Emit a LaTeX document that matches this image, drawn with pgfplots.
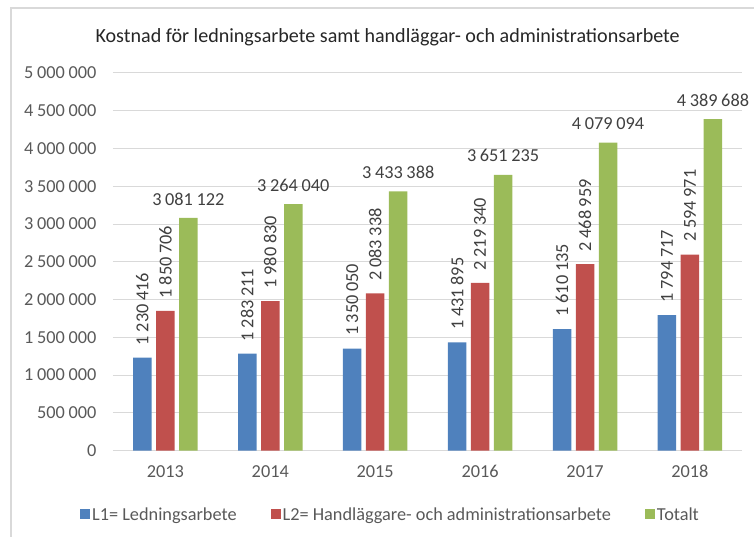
\documentclass[border=0pt]{standalone}
\usepackage{pgfplots}
\pgfplotsset{compat=1.18}
\usepackage{fontspec}
\setmainfont{Carlito}
\definecolor{c1}{HTML}{4F81BD}
\definecolor{c2}{HTML}{C0504D}
\definecolor{c3}{HTML}{9BBB59}
\definecolor{gridc}{HTML}{D9D9D9}
\definecolor{txt}{HTML}{595959}
\definecolor{lbl}{HTML}{404040}
\definecolor{titlec}{HTML}{262626}
\newcommand\sep{\hspace{0.2em}}
\newcommand\fs{\fontsize{18.3}{21}\selectfont}
\begin{document}
\begin{tikzpicture}
\path (-113pt,-86pt) rectangle (642pt,451pt);
\draw[gridc, line width=1.2pt] (-102pt,-86pt) -- (-102pt,443pt) -- (642pt,443pt);
\begin{axis}[
  at={(0,0)}, anchor=south west,
  scale only axis, width=630pt, height=378pt,
  xmin=-0.5, xmax=5.5, ymin=0, ymax=5000000,
  xtick={0,...,5}, xticklabels={2013,2014,2015,2016,2017,2018},
  ytick={0,500000,...,5000000},
  scaled y ticks=false,
  axis line style={draw=none},
  major tick length=0pt,
  ymajorgrids, major grid style={gridc, line width=1pt},
  ybar=4.5pt, bar width=18.5pt,
  clip=false,
  /pgf/number format/fixed,
  /pgf/number format/precision=0,
  /pgf/number format/1000 sep={\sep},
  /pgf/number format/assume math mode=true,
  yticklabel style={text=txt, font=\fs, xshift=-13pt},
  xticklabel style={text=txt, font=\fs, yshift=-11pt},
  point meta=explicit symbolic,
  legend columns=3,
  legend style={draw=none, fill=none, at={(axis description cs:0.441,-0.169)}, anchor=center,
    font=\fs, text=txt,
    /tikz/every even column/.append style={column sep=32pt}},
  legend image code/.code={\fill[#1] (0pt,-5pt) rectangle (10pt,5pt);},
]
\addplot[fill=c1, draw=none, nodes near coords,
  every node near coord/.append style={rotate=90, anchor=west, inner xsep=12.5pt, inner ysep=0pt, font=\fs, text=lbl}]
  coordinates {(0,1230416)[1\sep230\sep416] (1,1283211)[1\sep283\sep211] (2,1350050)[1\sep350\sep050]
               (3,1431895)[1\sep431\sep895] (4,1610135)[1\sep610\sep135] (5,1794717)[1\sep794\sep717]};
\addplot[fill=c2, draw=none, nodes near coords,
  every node near coord/.append style={rotate=90, anchor=west, inner xsep=12.5pt, inner ysep=0pt, font=\fs, text=lbl}]
  coordinates {(0,1850706)[1\sep850\sep706] (1,1980830)[1\sep980\sep830] (2,2083338)[2\sep083\sep338]
               (3,2219340)[2\sep219\sep340] (4,2468959)[2\sep468\sep959] (5,2594971)[2\sep594\sep971]};
\addplot[fill=c3, draw=none, nodes near coords,
  every node near coord/.append style={anchor=south, inner ysep=12.5pt, inner xsep=0pt, font=\fs, text=lbl}]
  coordinates {(0,3081122)[3\sep081\sep122] (1,3264040)[3\sep264\sep040] (2,3433388)[3\sep433\sep388]
               (3,3651235)[3\sep651\sep235] (4,4079094)[4\sep079\sep094] (5,4389688)[4\sep389\sep688]};
\legend{L1= Ledningsarbete, L2= Handläggare- och administrationsarbete, Totalt}
\end{axis}
\node[anchor=base, font=\fontsize{20.1}{23}\selectfont, text=titlec] at (275pt,408pt)
  {Kostnad för ledningsarbete samt handläggar- och administrationsarbete};
\end{tikzpicture}
\end{document}
